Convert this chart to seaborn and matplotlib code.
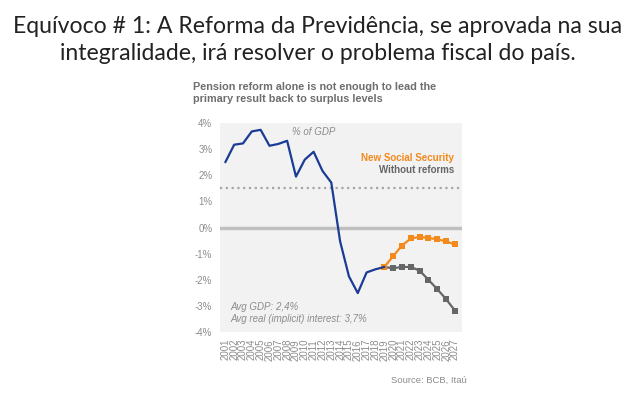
import matplotlib
matplotlib.use("Agg")
import matplotlib.pyplot as plt
import seaborn as sns
import pandas as pd

hist_years = list(range(2001, 2020))
hist_vals = [2.50, 3.17, 3.22, 3.68, 3.74, 3.13, 3.20, 3.32, 1.95, 2.60, 2.90, 2.17, 1.72,
             -0.53, -1.87, -2.51, -1.72, -1.60, -1.51]
proj_years = list(range(2019, 2028))
new_ss = [-1.51, -1.10, -0.69, -0.42, -0.36, -0.40, -0.45, -0.53, -0.65]
without = [-1.51, -1.56, -1.51, -1.51, -1.65, -2.00, -2.36, -2.74, -3.18]
y_ticks = [4, 3, 2, 1, 0, -1, -2, -3, -4]
x_labels = [str(y) for y in range(2001, 2028)]
target_level = 1.5

sns.set_theme(style="white")
plt.rcParams['font.family'] = ['Liberation Sans', 'DejaVu Sans']

fig = plt.figure(figsize=(6.35, 3.95), dpi=100)
ax = fig.add_axes([0.3465, 0.1595, 0.381, 0.529])
ax.set_facecolor("#f2f2f2")

hist_df = pd.DataFrame({"year": hist_years, "val": hist_vals})
ss_df = pd.DataFrame({"year": proj_years, "val": new_ss})
wo_df = pd.DataFrame({"year": proj_years, "val": without})

ax.axhline(0, color="#bfbfbf", lw=2.5, zorder=1)
ax.axhline(target_level, color="#a6a6a6", lw=1.6, ls=(0, (1, 1.6)), zorder=1)

sns.lineplot(data=wo_df, x="year", y="val", ax=ax, color="#666666", lw=1.6,
             marker="s", markersize=3.9, markeredgewidth=0, zorder=3)
sns.lineplot(data=ss_df, x="year", y="val", ax=ax, color="#f28a1c", lw=1.6,
             marker="s", markersize=3.9, markeredgewidth=0, zorder=3)
sns.lineplot(data=hist_df, x="year", y="val", ax=ax, color="#1b3c94", lw=1.6, zorder=4)

ax.set_xlim(2000.4, 2027.8)
ax.set_ylim(-4, 4)
ax.set_yticks(y_ticks)
ax.set_yticklabels([f"{v}%" for v in y_ticks])
ax.set_xticks(list(range(2001, 2028)))
ax.set_xticklabels(x_labels, rotation=90)
ax.tick_params(axis="both", length=0, labelsize=7, labelcolor="#8c8c8c")
ax.tick_params(axis="y", pad=5.5)
ax.tick_params(axis="x", pad=5)
ax.set_xlabel("")
ax.set_ylabel("")
for s in ax.spines.values():
    s.set_visible(False)

ax.text(2011.0, 3.66, "% of GDP", fontsize=7, style="italic", color="#8c8c8c", ha="center", va="center")
ax.text(2026.9, 2.65, "New Social Security", fontsize=7, fontweight="bold", color="#f28a1c", ha="right", va="center")
ax.text(2026.9, 2.22, "Without reforms", fontsize=7, fontweight="bold", color="#666666", ha="right", va="center")
ax.text(2001.6, -3.05, "Avg GDP: 2,4%", fontsize=7, style="italic", color="#8c8c8c", ha="left", va="center")
ax.text(2001.6, -3.5, "Avg real (implicit) interest: 3,7%", fontsize=7, style="italic", color="#8c8c8c", ha="left", va="center")

fig.text(193/635, 1 - 93/395, "Pension reform alone is not enough to lead the\nprimary result back to surplus levels",
         fontsize=7.8, fontweight="bold", color="#6e6e6e", ha="left", va="center", linespacing=1.15)
fig.text(467/635, 1 - 380/395, "Source: BCB, Itaú", fontsize=6.8, color="#8c8c8c", ha="right", va="center")

fig.text(0.5, 1 - 40/395,
         "Equívoco # 1: A Reforma da Previdência, se aprovada na sua\nintegralidade, irá resolver o problema fiscal do país.",
         fontsize=16.6, family=["Lato", "DejaVu Sans"], color="#222222",
         ha="center", va="center", linespacing=1.3)

fig.savefig("out.png", dpi=100, facecolor="white")
